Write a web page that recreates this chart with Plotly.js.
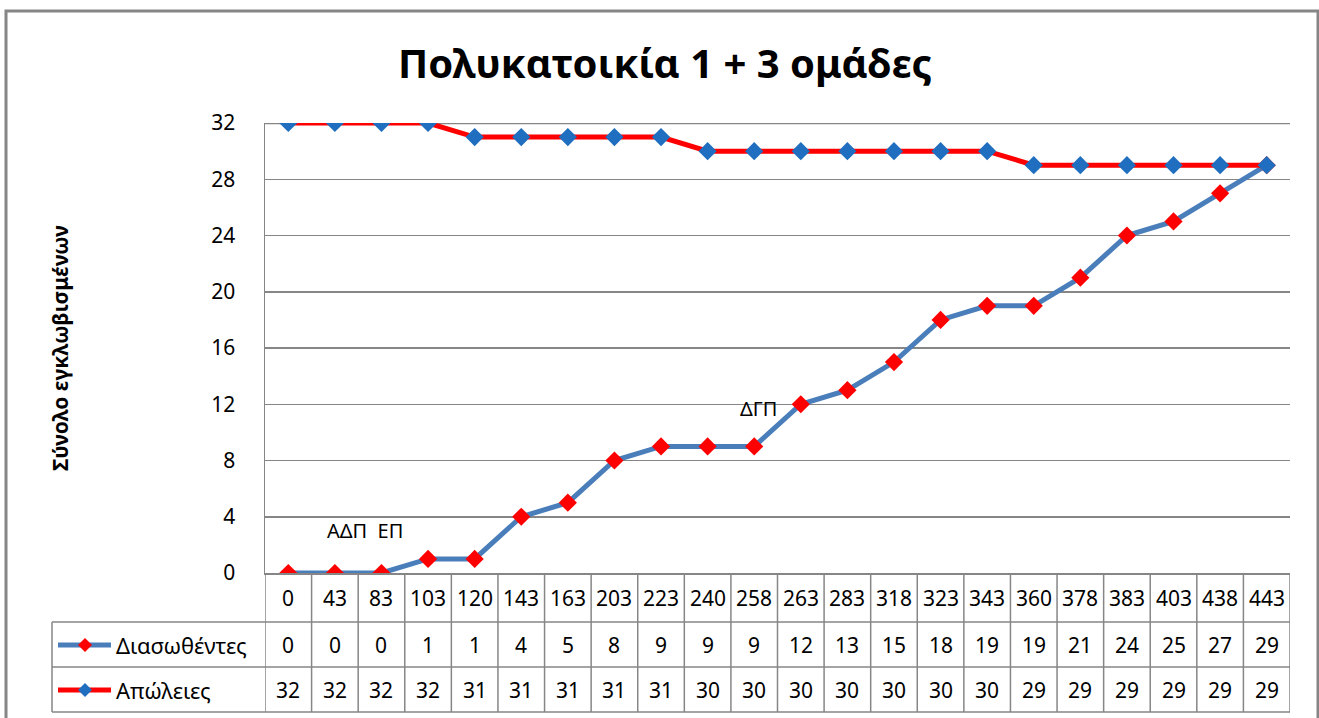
<!DOCTYPE html>
<html>
<head>
<meta charset="utf-8">
<script src="https://cdn.plot.ly/plotly-3.0.1.min.js"></script>
<style>html,body{margin:0;padding:0;background:#fff;}#chart{width:1319px;height:718px;}</style>
</head>
<body>
<div id="chart"></div>
<script>
// ---- data ----
const chartTitle = "Πολυκατοικία 1 + 3 ομάδες";
const yTitle = "Σύνολο εγκλωβισμένων";
const timeLabels = ["0","43","83","103","120","143","163","203","223","240","258","263","283","318","323","343","360","378","383","403","438","443"];
const savedName = "Διασωθέντες";
const saved = [0,0,0,1,1,4,5,8,9,9,9,12,13,15,18,19,19,21,24,25,27,29];
const lossesName = "Απώλειες";
const losses = [32,32,32,32,31,31,31,31,31,30,30,30,30,30,30,30,29,29,29,29,29,29];
const noteTexts = ["ΑΔΠ\u00a0\u00a0ΕΠ", "ΔΓΠ"];
const noteX = [1.65, 10.1];
const noteY = [3.0, 11.7];

// ---- geometry helpers (pixel -> paper) ----
const W = 1319, H = 718, L = 265, R = 1290, T = 123, B = 573;
const px = x => (x - L) / (R - L);
const py = y => (B - y) / (B - T);

const grey = "#868686";
const blueLine = "#4A7EBB";
const red = "#FF0000";
const blueMarker = "#1F6EBF";
const font = "'Noto Sans', 'DejaVu Sans', sans-serif";

const idx = timeLabels.map((_, i) => i);

const traces = [
  {x: idx, y: saved, name: savedName, mode: "lines+markers",
   line: {color: blueLine, width: 5},
   marker: {symbol: "diamond", size: 14, color: red, line: {width: 0}}},
  {x: idx, y: losses, name: lossesName, mode: "lines+markers",
   line: {color: red, width: 5},
   marker: {symbol: "diamond", size: 14, color: blueMarker, line: {width: 0}}}
];

const shapes = [];
const annotations = [];

// outer frame
shapes.push({type: "rect", xref: "paper", yref: "paper", x0: px(6), x1: px(1318), y0: py(11), y1: py(730),
  line: {color: grey, width: 3}, fillcolor: "rgba(0,0,0,0)", layer: "below"});

// heavier top gridline
shapes.push({type: "line", xref: "paper", yref: "y", x0: 0, x1: 1, y0: 32, y1: 32,
  line: {color: grey, width: 2.5}, layer: "below"});

// table horizontal lines
[622, 667, 712].forEach(yy => {
  shapes.push({type: "line", xref: "paper", yref: "paper", x0: px(52), x1: 1, y0: py(yy), y1: py(yy),
    line: {color: grey, width: 1.5}});
});
// table vertical lines at category boundaries
for (let i = 0; i <= timeLabels.length; i++) {
  shapes.push({type: "line", xref: "x", yref: "paper", x0: i - 0.5, x1: i - 0.5, y0: py(573), y1: py(712),
    line: {color: grey, width: 1.5}});
}
shapes.push({type: "line", xref: "paper", yref: "paper", x0: px(52), x1: px(52), y0: py(622), y1: py(712),
  line: {color: grey, width: 1.5}});

// table cell text
const rowY = [598, 645, 690];
const rows = [timeLabels, saved, losses];
rows.forEach((vals, r) => {
  vals.forEach((v, i) => {
    annotations.push({xref: "x", yref: "paper", x: i, y: py(rowY[r]), text: String(v), showarrow: false,
      xanchor: "center", yanchor: "middle", font: {family: font, size: 21, color: "#000"}});
  });
});

// legend keys inside table
function diamondPath(cx, cy, s) {
  return `M ${px(cx)} ${py(cy - s)} L ${px(cx + s)} ${py(cy)} L ${px(cx)} ${py(cy + s)} L ${px(cx - s)} ${py(cy)} Z`;
}
const keys = [{name: savedName, lc: blueLine, mc: red, y: 645}, {name: lossesName, lc: red, mc: blueMarker, y: 690}];
keys.forEach(k => {
  shapes.push({type: "line", xref: "paper", yref: "paper", x0: px(58), x1: px(111), y0: py(k.y), y1: py(k.y),
    line: {color: k.lc, width: 5}});
  shapes.push({type: "path", xref: "paper", yref: "paper", path: diamondPath(85, k.y, 7),
    fillcolor: k.mc, line: {width: 0}});
  annotations.push({xref: "paper", yref: "paper", x: px(114), y: py(k.y), text: k.name, showarrow: false,
    xanchor: "left", yanchor: "middle", font: {family: font, size: 22, color: "#000"}});
});

// y axis title
annotations.push({xref: "paper", yref: "paper", x: px(60), y: py(348), text: "<b>" + yTitle + "</b>", showarrow: false,
  textangle: -90, xanchor: "center", yanchor: "middle", font: {family: font, size: 21, color: "#000"}});

// notes
noteTexts.forEach((t, i) => {
  annotations.push({xref: "x", yref: "y", x: noteX[i], y: noteY[i], text: t, showarrow: false,
    xanchor: "center", yanchor: "middle", font: {family: font, size: 20, color: "#000"}});
});

const layout = {
  width: W, height: H,
  margin: {l: L, r: W - R, t: T, b: H - B, pad: 0},
  paper_bgcolor: "#fff", plot_bgcolor: "#fff",
  showlegend: false,
  title: {text: "<b>" + chartTitle + "</b>", x: 665 / W, xanchor: "center", y: 1 - 64 / H, yanchor: "middle",
    font: {family: font, size: 40, color: "#000"}},
  xaxis: {range: [-0.5, timeLabels.length - 0.5], showticklabels: false, showgrid: false, zeroline: false,
    showline: true, linecolor: grey, linewidth: 1.5, ticks: "", fixedrange: true},
  yaxis: {range: [0, 32], dtick: 4, tick0: 0, showgrid: true, gridcolor: grey, gridwidth: 1.5, zeroline: false,
    showline: true, linecolor: grey, linewidth: 1.5, ticks: "", ticklabelstandoff: 24,
    tickfont: {family: font, size: 21, color: "#000"}, fixedrange: true},
  shapes: shapes,
  annotations: annotations
};

Plotly.newPlot("chart", traces, layout, {displayModeBar: false, staticPlot: true});
</script>
</body>
</html>
